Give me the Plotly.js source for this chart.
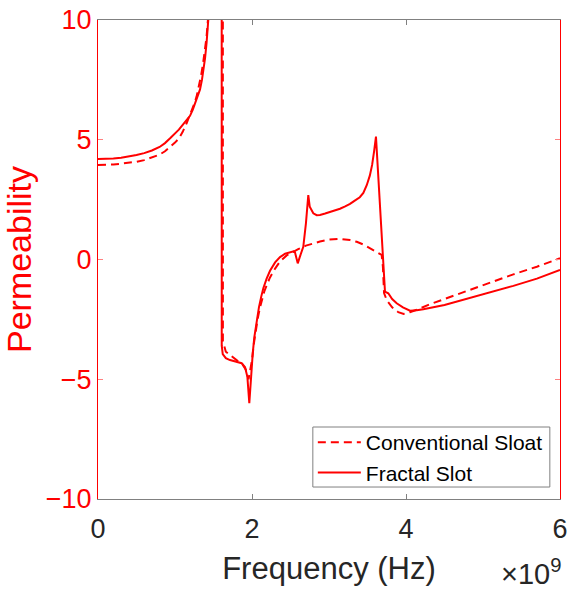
<!DOCTYPE html>
<html>
<head>
<meta charset="utf-8">
<script src="https://cdn.plot.ly/plotly-3.0.1.min.js"></script>
<style>html,body{margin:0;padding:0;background:#fff;}#chart{width:570px;height:591px;}</style>
</head>
<body>
<div id="chart"></div>
<script>
// Frequency in units of 1e9 Hz
const convFreq = [0,0.1,0.2,0.3,0.4,0.5,0.6,0.7,0.8,0.87,0.94,1.0,1.05,1.1,1.152,1.19,1.22,1.25,1.28,1.31,1.34,1.365,1.39,1.41,1.43,1.47,1.51,1.55,1.59,1.618,1.622,1.66,1.714,1.8,1.87,1.92,1.955,1.975,2.0,2.025,2.05,2.075,2.104,2.13,2.16,2.2,2.234,2.3,2.364,2.45,2.536,2.6,2.7,2.8,2.883,3.0,3.143,3.273,3.36,3.45,3.52,3.575,3.63,3.684,3.70,3.715,3.75,3.82,3.9,3.97,4.05,4.139,4.3,4.5,4.744,5.0,5.394,5.7,6.0];
const convPerm = [3.95,3.95,3.97,4.0,4.03,4.08,4.15,4.25,4.38,4.52,4.71,4.88,5.05,5.33,5.7,6.0,6.25,6.5,6.8,7.2,7.7,8.2,8.75,9.3,10.1,12,15.5,24,45,100,-3.4,-3.85,-3.99,-4.2,-4.35,-4.6,-5.0,-4.7,-4.2,-3.5,-2.95,-2.45,-2.0,-1.65,-1.33,-1.0,-0.75,-0.38,-0.08,0.17,0.33,0.43,0.58,0.68,0.75,0.83,0.86,0.81,0.74,0.62,0.5,0.4,0.3,0.19,-0.3,-1.4,-1.7,-2.0,-2.2,-2.27,-2.2,-2.1,-1.88,-1.65,-1.34,-1.05,-0.62,-0.3,0.05];

const fracFreq = [0,0.1,0.2,0.3,0.4,0.5,0.6,0.7,0.8,0.87,0.94,1.0,1.05,1.1,1.15,1.195,1.23,1.26,1.29,1.325,1.35,1.37,1.39,1.41,1.43,1.46,1.5,1.54,1.57,1.59,1.603,1.607,1.62,1.66,1.714,1.8,1.866,1.91,1.94,1.965,1.98,1.995,2.01,2.03,2.061,2.09,2.12,2.147,2.19,2.234,2.3,2.364,2.43,2.494,2.54,2.558,2.575,2.594,2.62,2.666,2.7,2.731,2.75,2.796,2.84,2.883,2.95,3.013,3.08,3.143,3.21,3.273,3.33,3.4,3.446,3.49,3.53,3.56,3.585,3.61,3.727,3.77,3.82,3.879,3.96,4.052,4.14,4.225,4.5,4.744,5.0,5.394,5.7,6.0];
const fracPerm = [4.2,4.2,4.22,4.25,4.3,4.36,4.44,4.55,4.7,4.86,5.07,5.25,5.42,5.62,5.82,6.0,6.25,6.5,6.75,7.1,7.5,7.9,8.4,9.04,9.8,11.2,14,19,30,50,90,-3.6,-3.95,-4.12,-4.2,-4.28,-4.33,-4.5,-4.9,-6.0,-5.2,-4.5,-3.9,-3.25,-2.53,-2.0,-1.55,-1.2,-0.8,-0.47,-0.12,0.1,0.24,0.31,0.34,0.3,0.12,-0.16,0.1,0.53,1.5,2.69,2.2,1.93,1.85,1.86,1.92,1.98,2.05,2.12,2.22,2.32,2.45,2.6,2.78,3.1,3.5,3.95,4.5,5.13,-1.34,-1.41,-1.65,-1.83,-2.0,-2.14,-2.12,-2.08,-1.9,-1.69,-1.45,-1.1,-0.8,-0.44];

const seriesNames = ["Conventional Sloat","Fractal Slot"];
const xTicks = [0,2,4,6];
const yTicks = [-10,-5,0,5,10];
const yTickLabels = ["\u221210","\u22125","0","5","10"];

const FONT = "Liberation Sans, Arial, Helvetica, sans-serif";

const traces = [
  {x: convFreq, y: convPerm, name: seriesNames[0], mode: "lines",
   line: {color: "#ff0000", width: 2, dash: "8px,5px"}},
  {x: fracFreq, y: fracPerm, name: seriesNames[1], mode: "lines",
   line: {color: "#ff0000", width: 2}}
];

const layout = {
  width: 570, height: 591,
  margin: {l: 98, r: 10, t: 20, b: 92},
  paper_bgcolor: "#fff", plot_bgcolor: "#fff",
  font: {family: FONT, color: "#262626"},
  showlegend: true,
  xaxis: {
    range: [0, 6], tickvals: xTicks, ticktext: xTicks.map(String),
    showgrid: false, zeroline: false, automargin: false,
    showline: true, linecolor: "#808080", linewidth: 1, mirror: "ticks",
    ticks: "inside", ticklen: 5, tickcolor: "#808080",
    ticklabelstandoff: 6,
    tickfont: {size: 27, color: "#262626", family: FONT},
    title: {text: "Frequency (Hz)", font: {size: 31, color: "#262626", family: FONT}, standoff: 13}
  },
  yaxis: {
    range: [-10, 10], tickvals: yTicks, ticktext: yTickLabels,
    showgrid: false, zeroline: false, automargin: false,
    showline: true, linecolor: "#ff0000", linewidth: 1, mirror: "ticks",
    ticks: "inside", ticklen: 5, tickcolor: "#ff8080",
    tickfont: {size: 27, color: "#ff0000", family: FONT},
    title: {text: "Permeability", font: {size: 34, color: "#ff0000", family: FONT}, standoff: 7}
  },
  legend: {
    x: 0.465, y: 0.0124, xanchor: "left", yanchor: "bottom",
    bgcolor: "rgba(0,0,0,0)", borderwidth: 0,
    itemwidth: 43,
    font: {size: 21, color: "#000", family: FONT},
    tracegroupgap: 0
  },
  shapes: [{
    type: "rect", xref: "paper", yref: "paper",
    x0: 0.465, x1: 0.978, y0: 0.025, y1: 0.1503,
    line: {color: "#808080", width: 1}, fillcolor: "#ffffff", layer: "below"
  }],
  annotations: [{
    xref: "paper", yref: "paper", x: 1.007, y: -0.152, xanchor: "right", yanchor: "middle",
    text: "×10<sup>9</sup>", showarrow: false,
    font: {size: 29, color: "#262626", family: FONT}
  }]
};

Plotly.newPlot("chart", traces, layout, {displayModeBar: false, staticPlot: true});
</script>
</body>
</html>
